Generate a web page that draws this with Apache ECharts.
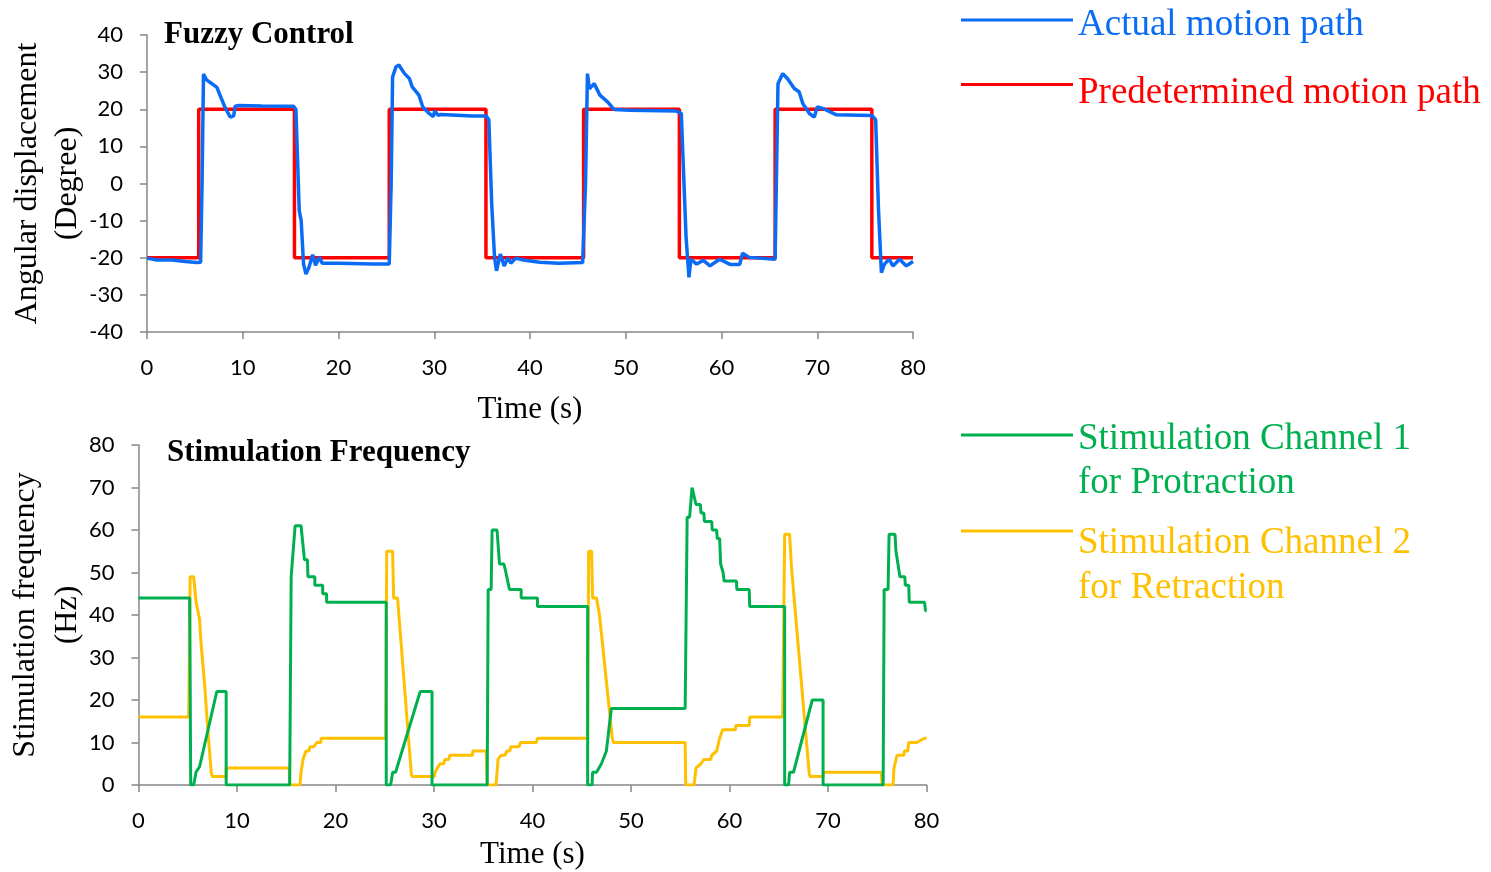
<!DOCTYPE html>
<html><head><meta charset="utf-8">
<script src="https://cdn.jsdelivr.net/npm/echarts@6/dist/echarts.min.js"></script>
<style>html,body{margin:0;padding:0;background:#fff}#c{width:1491px;height:872px}</style>
</head><body><div id="c"></div><script>
// ---- data: [time (s), value] ----
const predeterminedPath = [[0,-20],[5.4,-20],[5.4,20],[15.4,20],[15.4,-20],[25.3,-20],[25.3,20],[35.4,20],[35.4,-20],[45.6,-20],[45.6,20],[55.6,20],[55.6,-20],[65.6,-20],[65.6,20],[75.7,20],[75.7,-20],[80,-20]];
const actualPath = [[0,-20.1],[1,-20.6],[2.6,-20.6],[4,-21],[5.2,-21.3],[5.6,-21.2],[5.75,0],[5.9,29.5],[6.2,28],[6.5,27.4],[7.3,25.9],[7.7,23.3],[8.2,20.2],[8.7,17.9],[9.05,18.2],[9.2,20.8],[9.6,21],[12,20.9],[15.3,20.8],[15.55,20],[15.9,-7.3],[16.1,-10],[16.35,-21.7],[16.6,-24.4],[16.9,-22.7],[17.3,-19.2],[17.6,-22],[18,-19.9],[18.3,-21.5],[20,-21.5],[23.6,-21.7],[25.3,-21.7],[25.5,0],[25.65,28.7],[26,31.4],[26.3,31.9],[26.9,29.6],[27.4,28.3],[27.7,26],[28.4,23.8],[28.8,20.6],[29.5,18.8],[29.9,18],[30.05,19.6],[30.4,18.4],[30.7,18.6],[34,18.2],[35.4,18.2],[35.7,17.2],[36,-5.5],[36.3,-20],[36.5,-23.5],[36.9,-19],[37.3,-22.2],[37.7,-20],[38,-21.5],[38.5,-20.1],[39.3,-20.6],[41,-21.2],[43,-21.5],[45.5,-21.3],[45.8,0],[46,29.6],[46.2,25.5],[46.4,25.1],[46.7,26.9],[47.3,23.8],[48.1,22],[48.8,19.9],[50.4,19.7],[55.3,19.5],[55.8,18.9],[56.3,-14.5],[56.6,-25.3],[56.8,-20.4],[57.4,-21.7],[58.1,-20.7],[58.8,-22.2],[59.8,-20.4],[60.9,-21.8],[61.9,-21.8],[62.2,-18.8],[62.9,-19.9],[65.6,-20.4],[65.9,26.9],[66.4,29.6],[66.9,28.2],[67.6,25.6],[68.1,24.7],[68.5,21.5],[69.2,18.8],[69.7,17.9],[70,20.6],[70.6,20.2],[72,18.5],[75.7,18.3],[76.1,17.2],[76.4,-7.3],[76.7,-24],[77,-21.8],[77.5,-20.4],[77.9,-22.2],[78.6,-20.4],[79.3,-22.2],[80,-21]];
const channel1 = [[0,44],[5.2,44],[5.3,0],[5.6,0],[5.85,3.1],[6.2,4.3],[7.95,22],[8.9,22],[8.9,0],[15.35,0],[15.5,49],[15.7,49],[15.9,61],[16.5,61],[16.85,53],[17.15,53],[17.2,49],[17.9,49],[17.9,47],[18.7,47],[18.7,45],[19.1,45],[19.1,43],[25.15,43],[25.15,0],[25.6,0],[25.8,3],[26.1,3],[28.6,22],[29.8,22],[29.8,0],[35.4,0],[35.5,46],[35.8,46],[35.9,60],[36.4,60],[36.65,52],[37.1,52],[37.3,50],[37.66,46],[38.85,46],[38.85,44],[40.5,44],[40.5,42],[45.6,42],[45.6,0],[46.05,0],[46.1,3],[46.5,3],[47,5],[47.5,8],[48,18],[55.5,18],[55.7,63],[55.95,63],[56.2,70],[56.4,70],[56.6,66],[57.05,66],[57.1,64],[57.4,64],[57.45,62],[58.2,62],[58.25,60],[58.7,60],[58.75,58],[59.0,58],[59.1,52],[59.3,52],[59.35,50],[59.45,48],[60.7,48],[60.75,46],[62,46],[62.05,42],[65.6,42],[65.6,0],[66,0],[66.1,3],[66.5,3],[68.4,20],[69.5,20],[69.5,0],[75.6,0],[75.7,46],[76.1,46],[76.2,59],[76.8,59],[76.9,55],[77.1,55],[77.3,49],[77.8,49],[77.85,47],[78.2,47],[78.25,43],[79.8,43],[79.9,41],[80,41]];
const channel2 = [[0,16],[5.1,16],[5.24,49],[5.6,49],[5.85,43],[6.0,43],[6.2,39],[6.36,33],[6.7,24],[7.04,13],[7.38,3],[7.5,2],[8.9,2],[8.9,4],[15.3,4],[15.35,0],[16.4,0],[16.5,3],[16.7,6],[17.0,8],[17.3,8],[17.4,9],[17.8,9],[18.1,10],[18.5,10],[18.55,11],[25.1,11],[25.2,55],[25.8,55],[25.9,44],[26.3,44],[27.7,2.5],[27.8,2],[30.05,2],[30.1,3],[30.6,5],[31.0,5],[31.1,6],[31.5,6],[31.6,7],[33.9,7],[33.95,8],[35.3,8],[35.4,0],[36.3,0],[36.5,6],[36.8,7],[37.2,7],[37.4,8],[37.7,8],[37.8,9],[38.6,9],[38.8,10],[40.4,10],[40.5,11],[45.6,11],[45.7,55],[46.0,55],[46.1,44],[46.5,44],[46.8,40],[48.1,11],[48.2,10],[55.5,10],[55.55,0],[56.4,0],[56.6,4],[57.1,5],[57.4,6],[58.1,6],[58.2,7],[58.7,8],[59.0,11],[59.3,13],[60.6,13],[60.65,14],[62,14],[62.05,16],[65.4,16],[65.6,59],[66.1,59],[66.3,51],[66.5,51],[68.1,2.5],[68.2,2],[69.5,2],[69.55,3],[75.4,3],[75.5,0],[76.6,0],[76.7,4],[77.0,7],[77.7,7],[77.75,8],[78.1,8],[78.2,10],[79.0,10],[79.8,11],[80,11]];
const seriesNames = ['Actual motion path','Predetermined motion path','Stimulation Channel 1','Stimulation Channel 2'];
const legendLines = [['Actual motion path'],['Predetermined motion path'],['Stimulation Channel 1','for Protraction'],['Stimulation Channel 2','for Retraction']];
const chartTitles = ['Fuzzy Control','Stimulation Frequency'];
const xAxisName = 'Time (s)';
const yAxisNames = ['Angular displacement\n(Degree)','Stimulation frequency\n(Hz)'];

const COLORS = ['#0A6CF5','#FF0000','#00B050','#FFC000'];
const SERIF = 'Liberation Serif';
const TICKFONT = 'Lato';
const axisGray = '#878787';

function xAx(gi, gap) {
  return {
    gridIndex: gi, type: 'value', min: 0, max: 80, interval: 10,
    axisLine: {show: true, onZero: false, lineStyle: {color: axisGray, width: 1.5}},
    axisTick: {show: true, length: 7, lineStyle: {color: axisGray, width: 1.5}},
    axisLabel: {margin: 25, fontFamily: TICKFONT, fontSize: 22, color: '#000'},
    splitLine: {show: false},
    name: xAxisName, nameLocation: 'middle', nameGap: gap, nameMoveOverlap: false,
    nameTextStyle: {fontFamily: SERIF, fontSize: 31, color: '#000'}
  };
}
function yAx(gi, min, max, name, gap, lh) {
  return {
    gridIndex: gi, type: 'value', min: min, max: max, interval: 10,
    axisLine: {show: true, onZero: false, lineStyle: {color: axisGray, width: 1.5}},
    axisTick: {show: true, length: 7, lineStyle: {color: axisGray, width: 1.5}},
    axisLabel: {margin: 24, fontFamily: TICKFONT, fontSize: 22, color: '#000'},
    splitLine: {show: false},
    name: name, nameLocation: 'middle', nameGap: gap, nameRotate: 90, nameMoveOverlap: false,
    nameTextStyle: {fontFamily: SERIF, fontSize: 32, color: '#000', lineHeight: lh}
  };
}
function legendItem(i, top, padH, lh) {
  return {
    data: [seriesNames[i]], left: 961, top: top, padding: 0, orient: 'vertical',
    icon: 'rect', itemWidth: 112, itemHeight: 3, selectedMode: false,
    formatter: () => '{p| }\n' + legendLines[i].map(s => '{t|' + s + '}').join('\n'),
    textStyle: {
      fontFamily: SERIF, fontSize: 37, color: COLORS[i],
      rich: {
        p: {fontSize: 2, lineHeight: padH},
        t: {fontFamily: SERIF, fontSize: 37, color: COLORS[i], lineHeight: lh}
      }
    }
  };
}
const option = {
  animation: false,
  backgroundColor: '#fff',
  title: [
    {text: chartTitles[0], left: 164, top: 17, padding: 0, textStyle: {fontFamily: SERIF, fontWeight: 'bold', fontSize: 31, color: '#000', lineHeight: 36}},
    {text: chartTitles[1], left: 167, top: 435, padding: 0, textStyle: {fontFamily: SERIF, fontWeight: 'bold', fontSize: 31, color: '#000', lineHeight: 36}}
  ],
  legend: [
    legendItem(0, -1, 10, 40),
    legendItem(1, 63.5, 17, 40),
    legendItem(2, 390, 52, 44),
    legendItem(3, 485, 69, 45)
  ],
  grid: [
    {left: 147, top: 35, width: 766, height: 297, outerBoundsMode: 'none', containLabel: false},
    {left: 138.5, top: 445, width: 788, height: 340, outerBoundsMode: 'none', containLabel: false}
  ],
  xAxis: [xAx(0, 62), xAx(1, 54)],
  yAxis: [yAx(0, -40, 40, yAxisNames[0], 59, 40), yAx(1, 0, 80, yAxisNames[1], 50, 42)],
  series: [
    {name: seriesNames[1], type: 'line', xAxisIndex: 0, yAxisIndex: 0, data: predeterminedPath, showSymbol: false, lineStyle: {color: COLORS[1], width: 3.5}, itemStyle: {color: COLORS[1]}},
    {name: seriesNames[0], type: 'line', xAxisIndex: 0, yAxisIndex: 0, data: actualPath, showSymbol: false, lineStyle: {color: COLORS[0], width: 3.5}, itemStyle: {color: COLORS[0]}},
    {name: seriesNames[3], type: 'line', xAxisIndex: 1, yAxisIndex: 1, data: channel2, showSymbol: false, lineStyle: {color: COLORS[3], width: 3}, itemStyle: {color: COLORS[3]}},
    {name: seriesNames[2], type: 'line', xAxisIndex: 1, yAxisIndex: 1, data: channel1, showSymbol: false, lineStyle: {color: COLORS[2], width: 3}, itemStyle: {color: COLORS[2]}}
  ]
};
const chart = echarts.init(document.getElementById('c'), null, {renderer: 'canvas'});
chart.setOption(option);
</script></body></html>
